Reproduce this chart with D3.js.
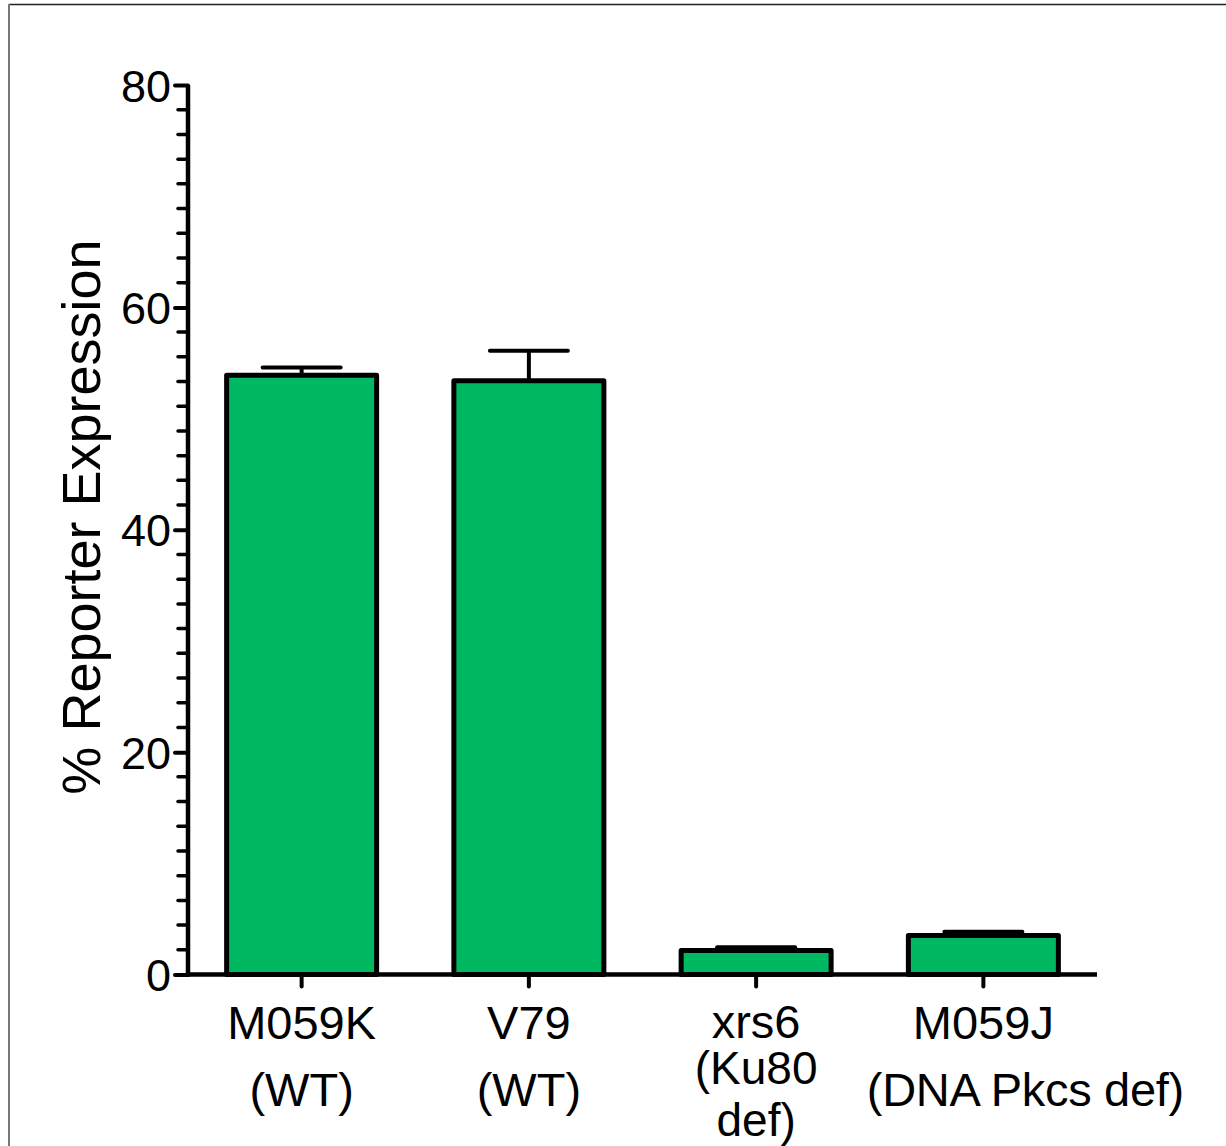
<!DOCTYPE html>
<html><head><meta charset="utf-8">
<script src="https://cdn.jsdelivr.net/npm/d3@7"></script>
<style>html,body{margin:0;padding:0;background:#fff;} svg{display:block;}</style>
</head><body>
<svg id="chart" width="1226" height="1146"></svg>
<script>
const categories = ["M059K", "V79", "xrs6", "M059J"];
const categoryLines = [["M059K", "(WT)"], ["V79", "(WT)"], ["xrs6", "(Ku80", "def)"], ["M059J", "(DNA Pkcs def)"]];
const values = [53.9, 53.4, 2.15, 3.5];
const errors = [0.7, 2.7, 0.3, 0.35];
const yTicks = [0, 20, 40, 60, 80];
const yTitle = "% Reporter Expression";

const svg = d3.select("#chart");
const font = "Arial, 'Liberation Sans', Helvetica, sans-serif";

// frame
svg.append("line").attr("x1", 9).attr("x2", 1226).attr("y1", 4.5).attr("y2", 4.5).attr("stroke", "#222").attr("stroke-width", 1.5);
svg.append("line").attr("x1", 9).attr("x2", 9).attr("y1", 4).attr("y2", 1146).attr("stroke", "#777").attr("stroke-width", 2);

const x = d3.scaleBand().domain(categories).range([188, 1097]).paddingInner(0.34).paddingOuter(0.17);
const y = d3.scaleLinear().domain([0, 80]).range([974.5, 85]);

// minor ticks (9 subdivisions per major interval)
const minor = [];
for (let i = 0; i < yTicks.length - 1; i++) {
  for (let k = 1; k < 9; k++) minor.push(yTicks[i] + (yTicks[i + 1] - yTicks[i]) * k / 9);
}
svg.append("g").selectAll("line").data(minor).join("line")
  .attr("x1", 178).attr("x2", 188).attr("y1", d => y(d)).attr("y2", d => y(d))
  .attr("stroke", "#000").attr("stroke-width", 3.5).attr("stroke-linecap", "round");

// y axis
const yAxis = svg.append("g").attr("transform", "translate(188,0)")
  .call(d3.axisLeft(y).tickValues(yTicks).tickSize(13).tickPadding(4).tickFormat(d3.format("d")));
yAxis.select(".domain").attr("stroke-width", 4.5).attr("d", `M0,${y(80)}V${y(0) + 2}`);
yAxis.selectAll(".tick line").attr("stroke-width", 4).attr("stroke-linecap", "round");
yAxis.selectAll(".tick text").attr("font-family", font).attr("font-size", 45).attr("fill", "#000").attr("dy", "0.36em");

// error bars
const eb = svg.append("g");
categories.forEach((c, i) => {
  const cx = x(c) + x.bandwidth() / 2;
  eb.append("line").attr("x1", cx).attr("x2", cx).attr("y1", y(values[i])).attr("y2", y(values[i] + errors[i]))
    .attr("stroke", "#000").attr("stroke-width", 4);
  eb.append("line").attr("x1", cx - 39).attr("x2", cx + 39).attr("y1", y(values[i] + errors[i])).attr("y2", y(values[i] + errors[i]))
    .attr("stroke", "#000").attr("stroke-width", 4).attr("stroke-linecap", "round");
});

// bars
svg.append("g").selectAll("rect").data(categories).join("rect")
  .attr("x", d => x(d)).attr("width", x.bandwidth())
  .attr("y", (d, i) => y(values[i])).attr("height", (d, i) => y(0) - y(values[i]))
  .attr("fill", "#00B862").attr("stroke", "#000").attr("stroke-width", 5).attr("stroke-linejoin", "round");

// x axis
const xAxis = svg.append("g").attr("transform", `translate(0,${y(0)})`)
  .call(d3.axisBottom(x).tickSize(12).tickFormat(""));
xAxis.select(".domain").attr("stroke-width", 4.5).attr("d", "M186,0H1097");
xAxis.selectAll(".tick line").attr("stroke-width", 4).attr("stroke-linecap", "round");

// x labels
const lineY = [1039, 1106, 1150];
const xrsY = [1038, 1084, 1136];
const lbl = svg.append("g").attr("font-family", font).attr("font-size", 47).attr("fill", "#000").attr("text-anchor", "middle");
categoryLines.forEach((lines, i) => {
  const cx = x(categories[i]) + x.bandwidth() / 2;
  lines.forEach((t, j) => {
    const t3 = lines.length === 3;
    const wide = i === categories.length - 1 && j === 1;
    lbl.append("text").attr("x", cx + (wide ? 42 : 0)).attr("y", t3 ? xrsY[j] : lineY[j])
      .attr("font-size", t3 && j > 0 ? 46 : 47)
      .attr("letter-spacing", wide ? -0.3 : 0).text(t);
  });
});

// y title
svg.append("text").attr("transform", `translate(100,517) rotate(-90)`)
  .attr("font-family", font).attr("font-size", 54).attr("text-anchor", "middle").attr("fill", "#000").text(yTitle);
</script>
</body></html>
